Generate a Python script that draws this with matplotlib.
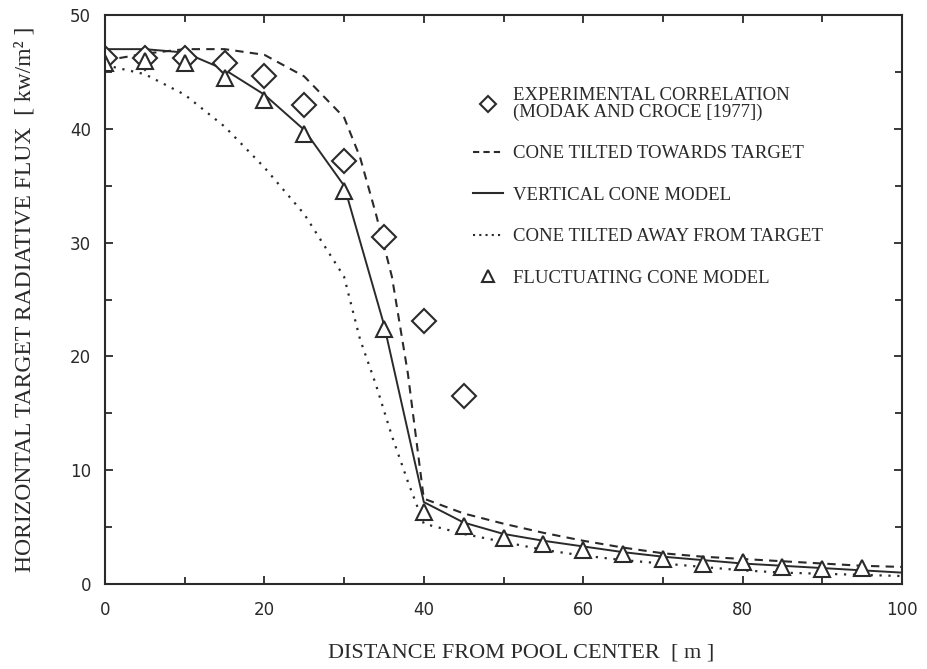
import matplotlib
matplotlib.use("Agg")
import matplotlib.pyplot as plt
from matplotlib.lines import Line2D
from matplotlib.ticker import MultipleLocator

# ---- data ----
exp_x = [0, 5, 10, 15, 20, 25, 30, 35, 40, 45]
exp_y = [46.2, 46.2, 46.2, 45.8, 44.6, 42.1, 37.2, 30.5, 23.1, 16.5]

toward_x = [0, 5, 10, 15, 20, 25, 30, 32, 34, 36, 38, 39, 40, 45, 50, 55, 60, 65, 70, 75, 80, 85, 90, 95, 100]
toward_y = [46.0, 46.6, 47.0, 47.0, 46.5, 44.6, 41.0, 37.5, 32.5, 27.0, 18.5, 13.0, 7.5, 6.2, 5.3, 4.5, 3.8, 3.2, 2.7, 2.4, 2.2, 2.0, 1.8, 1.6, 1.5]

vert_x = [0, 5, 10, 15, 20, 25, 30, 35, 40, 45, 50, 55, 60, 65, 70, 75, 80, 85, 90, 95, 100]
vert_y = [47.0, 47.0, 46.7, 45.2, 43.0, 39.9, 35.0, 22.8, 7.2, 5.4, 4.4, 3.8, 3.3, 2.8, 2.4, 2.1, 1.8, 1.6, 1.4, 1.2, 1.0]

away_x = [0, 5, 10, 15, 20, 25, 28, 30, 32, 34, 36, 38, 40, 45, 50, 55, 60, 65, 70, 75, 80, 85, 90, 95, 100]
away_y = [45.6, 44.8, 43.0, 40.2, 36.6, 32.5, 29.2, 27.0, 21.5, 17.5, 13.0, 9.0, 5.3, 4.4, 3.7, 3.0, 2.5, 2.1, 1.8, 1.5, 1.2, 1.0, 0.9, 0.8, 0.7]

fluct_x = [0, 5, 10, 15, 20, 25, 30, 35, 40, 45, 50, 55, 60, 65, 70, 75, 80, 85, 90, 95]
fluct_y = [45.8, 46.0, 45.8, 44.5, 42.5, 39.5, 34.5, 22.4, 6.3, 5.1, 4.0, 3.5, 3.0, 2.6, 2.2, 1.8, 1.9, 1.5, 1.3, 1.4]

labels = ["EXPERIMENTAL CORRELATION\n(MODAK AND CROCE [1977])",
          "CONE TILTED TOWARDS TARGET",
          "VERTICAL CONE MODEL",
          "CONE TILTED AWAY FROM TARGET",
          "FLUCTUATING CONE MODEL"]

serif = ["Liberation Serif", "DejaVu Serif"]

fig = plt.figure(figsize=(9.27, 6.69), dpi=100)
ax = fig.add_axes([105/927, 1-584/669, (902-105)/927, (584-15)/669])

ink = "#2a2a2a"
ax.plot(toward_x, toward_y, color=ink, lw=1.5, ls=(0, (4, 3)))
ax.plot(vert_x, vert_y, color=ink, lw=1.4, ls="-")
ax.plot(away_x, away_y, color=ink, lw=1.6, ls=(0, (1, 3)))
ax.plot(exp_x, exp_y, ls="none", marker="D", ms=12, mfc="white", mec=ink, mew=1.5)
ax.plot(fluct_x, fluct_y, ls="none", marker="^", ms=11, mfc="white", mec=ink, mew=1.5)

ax.set_xlim(0, 100)
ax.set_ylim(0, 50)
ax.xaxis.set_major_locator(MultipleLocator(20))
ax.xaxis.set_minor_locator(MultipleLocator(10))
ax.yaxis.set_major_locator(MultipleLocator(10))
ax.yaxis.set_minor_locator(MultipleLocator(5))
ax.tick_params(which="both", direction="in", top=True, right=True, color=ink, width=1.3)
ax.tick_params(which="major", length=6)
ax.tick_params(which="minor", length=5)
ax.tick_params(axis="x", which="major", pad=12, labelsize=12, labelcolor=ink)
ax.tick_params(axis="y", which="major", pad=10, labelsize=12, labelcolor=ink)
for s in ax.spines.values():
    s.set_linewidth(1.5)
    s.set_color(ink)

ax.set_xlabel("DISTANCE FROM POOL CENTER  [ m ]", family=serif, fontsize=16, color=ink)
ax.xaxis.set_label_coords(0.522, -(653 - 584) / 569)
ax.xaxis.label.set_va("center")
ax.set_ylabel("HORIZONTAL TARGET RADIATIVE FLUX  [ kw/m² ]", family=serif, fontsize=17, color=ink)
ax.yaxis.set_label_coords(-(105 - 25) / 797, 0.5)
ax.yaxis.label.set_va("center")

handles = [
    Line2D([], [], ls="none", marker="D", ms=8, mfc="white", mec=ink, mew=1.5),
    Line2D([], [], color=ink, lw=1.5, ls=(0, (3, 2))),
    Line2D([], [], color=ink, lw=1.5, ls="-"),
    Line2D([], [], color=ink, lw=1.5, ls=(0, (1, 2))),
    Line2D([], [], ls="none", marker="^", ms=9, mfc="white", mec=ink, mew=1.5),
]
leg = ax.legend(handles, labels, loc="upper left", bbox_to_anchor=(0.44, 0.903),
                frameon=False, handlelength=1.6, handletextpad=0.55, labelspacing=1.3,
                prop={"family": serif, "size": 13.5})
for t in leg.get_texts():
    t.set_color(ink)
    t.set_linespacing(0.95)

fig.savefig("out.png", dpi=100, facecolor="white")
